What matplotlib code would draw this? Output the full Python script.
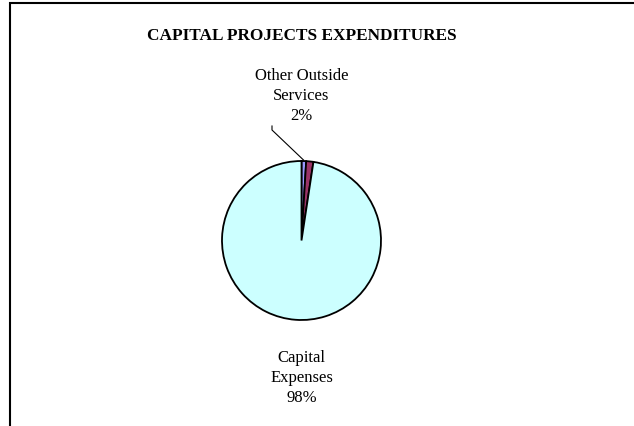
import matplotlib
matplotlib.use("Agg")
import matplotlib.pyplot as plt
from matplotlib.patches import Rectangle

# Expenditure shares (percent)
categories = ["", "Other Outside Services", "Capital Expenses"]
shares = [0.94, 1.46, 97.6]
colors = ["#9999FF", "#993366", "#CCFFFF"]
title = "CAPITAL PROJECTS EXPENDITURES"

W, H = 634, 427
plt.rcParams["font.family"] = ["Liberation Serif", "DejaVu Serif"]
fig = plt.figure(figsize=(W / 100, H / 100), dpi=100)
ax = fig.add_axes([0, 0, 1, 1])

# chart frame (only top and left edges fall inside the image)
ax.add_patch(Rectangle((9.5, -20), W + 40, H - 3.5 + 20, fill=False,
                       edgecolor="black", linewidth=1.5))

cx, cy, r = 301.5, H - 241.5, 79.5
ax.pie(shares, colors=colors, startangle=90, counterclock=False,
       center=(cx, cy), radius=r, frame=True,
       wedgeprops=dict(edgecolor="black", linewidth=1.3))
ax.set_xlim(0, W)
ax.set_ylim(0, H)
ax.set_aspect("equal")
ax.axis("off")

ax.text(W / 2 - 15, H - 35.5, title, ha="center", va="center",
        fontsize=12.4, fontweight="bold")

# data labels
small_pct = round(100 - round(shares[2]))
ax.text(cx, H - 96, f"Other Outside\nServices\n{small_pct}%",
        ha="center", va="center", fontsize=12, linespacing=1.35)
ax.text(cx, H - 378, "Capital\nExpenses\n" + f"{round(shares[2])}%",
        ha="center", va="center", fontsize=12, linespacing=1.35)

# leader line
ax.plot([272, 272, 303.5], [H - 127, H - 131, H - 161], color="black", linewidth=0.8)

fig.savefig("out.png", dpi=100)
